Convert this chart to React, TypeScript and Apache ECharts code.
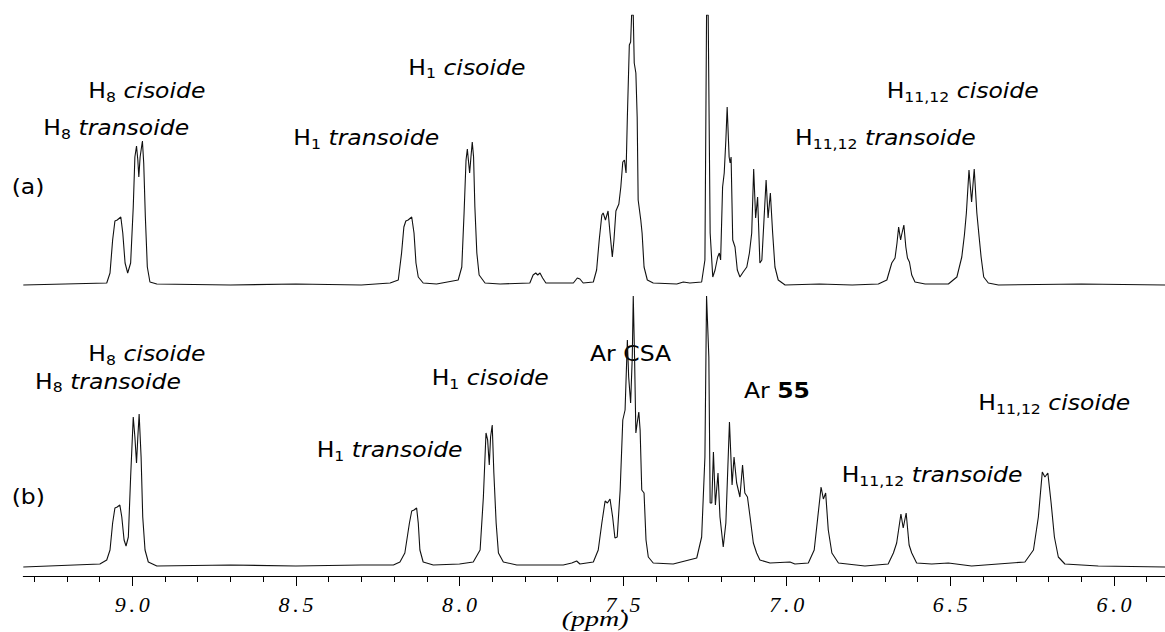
import React, { useEffect, useRef } from 'react';
import * as echarts from 'echarts';

// ---- data: [chemical shift (ppm), intensity] ----
const spectrumA: number[][] = [
  [9.333, 0], [9.078, 2], [9.068, 12], [9.06, 45], [9.053, 64], [9.046, 65], [9.035, 68], [9.029, 52], [9.022, 22], [9.014, 12], [9.005, 22], [8.997, 78], [8.992, 128], [8.987, 139], [8.983, 125], [8.98, 108], [8.976, 128], [8.969, 144], [8.965, 122], [8.96, 68], [8.954, 18], [8.946, 3], [8.925, 1], [8.7, 0], [8.5, 1], [8.3, 0],
  [8.212, 2], [8.187, 5], [8.177, 32], [8.17, 58], [8.164, 64], [8.157, 65], [8.146, 68], [8.139, 52], [8.133, 22], [8.126, 8], [8.111, 2], [8.07, 1],
  [8.004, 5], [7.993, 18], [7.986, 72], [7.98, 125], [7.976, 136], [7.972, 122], [7.969, 112], [7.965, 128], [7.961, 143], [7.957, 128], [7.953, 78], [7.947, 32], [7.94, 10], [7.922, 2], [7.876, 1],
  [7.785, 2], [7.775, 10], [7.767, 12], [7.761, 10], [7.754, 12], [7.746, 7], [7.736, 2], [7.652, 2], [7.64, 7], [7.632, 6], [7.622, 2],
  [7.591, 3], [7.581, 15], [7.573, 45], [7.565, 70], [7.561, 72], [7.554, 65], [7.546, 74], [7.54, 52], [7.533, 28], [7.528, 45], [7.522, 74], [7.513, 81], [7.507, 98], [7.501, 123], [7.496, 125], [7.491, 112], [7.487, 168], [7.481, 240], [7.477, 243], [7.474, 270], [7.469, 270], [7.466, 222], [7.461, 212], [7.457, 168], [7.454, 85], [7.446, 65], [7.442, 52], [7.436, 18], [7.426, 5], [7.408, 2], [7.336, 1], [7.316, 3], [7.296, 2],
  [7.26, 3], [7.25, 25], [7.245, 270], [7.24, 270], [7.234, 52], [7.226, 8], [7.219, 15], [7.211, 28], [7.206, 32], [7.202, 25], [7.196, 98], [7.191, 112], [7.186, 145], [7.182, 178], [7.176, 128], [7.173, 122], [7.17, 128], [7.165, 45], [7.158, 38], [7.151, 15], [7.143, 8], [7.133, 13], [7.122, 18], [7.114, 32], [7.107, 52], [7.101, 116], [7.095, 67], [7.089, 88], [7.082, 22], [7.076, 25], [7.069, 68], [7.063, 105], [7.057, 67], [7.05, 92], [7.043, 52], [7.036, 18], [7.026, 5], [7.005, 0],
  [6.9, 1], [6.8, 0],
  [6.72, 1], [6.694, 5], [6.679, 22], [6.669, 27], [6.663, 42], [6.658, 58], [6.652, 45], [6.649, 50], [6.642, 60], [6.636, 38], [6.631, 27], [6.625, 23], [6.618, 10], [6.608, 3], [6.577, 1],
  [6.506, 1], [6.48, 8], [6.465, 28], [6.457, 50], [6.451, 72], [6.443, 115], [6.435, 83], [6.427, 116], [6.419, 72], [6.412, 48], [6.406, 28], [6.398, 8], [6.384, 2], [6.353, 0], [6.1, 1], [5.844, 0],
];

const spectrumB: number[][] = [
  [9.333, -1], [9.099, 2], [9.078, 6], [9.068, 16], [9.06, 43], [9.053, 58], [9.046, 59], [9.038, 61], [9.032, 49], [9.025, 26], [9.019, 20], [9.012, 29], [9.005, 89], [8.997, 149], [8.992, 129], [8.987, 103], [8.983, 129], [8.979, 152], [8.973, 109], [8.968, 49], [8.961, 16], [8.951, 4], [8.925, 0], [8.7, 1], [8.5, 0], [8.3, 1],
  [8.202, 1], [8.182, 4], [8.167, 13], [8.153, 43], [8.146, 55], [8.139, 56], [8.131, 58], [8.126, 43], [8.121, 16], [8.111, 4], [8.08, 1],
  [8.0, 2], [7.958, 4], [7.937, 16], [7.927, 69], [7.919, 133], [7.914, 126], [7.909, 101], [7.905, 129], [7.9, 141], [7.895, 93], [7.888, 43], [7.881, 13], [7.866, 4], [7.825, 1],
  [7.683, 1], [7.657, 3], [7.642, 5], [7.632, 2],
  [7.591, 4], [7.576, 16], [7.565, 43], [7.555, 65], [7.548, 63], [7.54, 67], [7.532, 49], [7.525, 28], [7.518, 29], [7.509, 76], [7.501, 146], [7.494, 156], [7.487, 226], [7.483, 189], [7.477, 163], [7.472, 209], [7.469, 270], [7.465, 209], [7.461, 133], [7.457, 143], [7.452, 154], [7.448, 136], [7.443, 76], [7.436, 73], [7.43, 26], [7.423, 9], [7.408, 3], [7.347, 2],
  [7.275, 8], [7.26, 29], [7.25, 109], [7.245, 270], [7.238, 209], [7.234, 63], [7.229, 63], [7.224, 114], [7.218, 61], [7.21, 93], [7.204, 49], [7.194, 19], [7.186, 43], [7.175, 144], [7.167, 81], [7.161, 109], [7.153, 83], [7.143, 69], [7.135, 101], [7.128, 73], [7.12, 69], [7.112, 49], [7.102, 23], [7.092, 13], [7.082, 6], [7.051, 3], [6.99, 4], [6.975, 2],
  [6.934, 3], [6.916, 16], [6.905, 49], [6.895, 79], [6.888, 67], [6.881, 73], [6.873, 36], [6.862, 13], [6.842, 3], [6.761, 0],
  [6.69, 2], [6.674, 13], [6.664, 23], [6.651, 52], [6.644, 38], [6.635, 53], [6.626, 21], [6.618, 13], [6.603, 3], [6.557, 2], [6.506, 3], [6.435, 0],
  [6.272, 4], [6.246, 16], [6.231, 49], [6.219, 94], [6.211, 89], [6.202, 93], [6.192, 63], [6.182, 29], [6.17, 9], [6.15, 2], [6.048, 0], [5.844, -1],
];

// ---- axis ticks ----
const majorTicks = [6.0, 6.5, 7.0, 7.5, 8.0, 8.5, 9.0];
const minorTicks = [5.9, 6.1, 6.2, 6.3, 6.4, 6.6, 6.7, 6.8, 6.9, 7.1, 7.2, 7.3, 7.4, 7.6, 7.7, 7.8, 7.9, 8.1, 8.2, 8.3, 8.4, 8.6, 8.7, 8.8, 8.9, 9.1, 9.2, 9.3];
const ppmMin = 5.844;
const ppmMax = 9.333;
const axisTitle = '(ppm)';
const panelLabels = ['(a)', '(b)'];

// ---- annotation texts: [main, subscript, italic part] ----
const labelsA: string[][] = [
  ['H', '8', 'cisoide'],
  ['H', '8', 'transoide'],
  ['H', '1', 'transoide'],
  ['H', '1', 'cisoide'],
  ['H', '11,12', 'cisoide'],
  ['H', '11,12', 'transoide'],
];
const labelsB: string[][] = [
  ['H', '8', 'cisoide'],
  ['H', '8', 'transoide'],
  ['H', '1', 'transoide'],
  ['H', '1', 'cisoide'],
  ['H', '11,12', 'cisoide'],
  ['H', '11,12', 'transoide'],
];
const arLabels = ['Ar CSA', 'Ar ', '55'];

const SANS = 'DejaVu Sans';
const SERIF = 'Liberation Serif';

export default function App() {
  const ref = useRef<HTMLDivElement>(null);

  useEffect(() => {
    if (!ref.current) return;
    const chart = echarts.init(ref.current, undefined, { renderer: 'svg' });

    const rich = {
      n: { fontFamily: SANS, fontSize: 21, fill: '#000', lineHeight: 24, verticalAlign: 'top' },
      s: { fontFamily: SANS, fontSize: 14, fill: '#000', lineHeight: 14, verticalAlign: 'bottom' },
      i: { fontFamily: SANS, fontSize: 21, fontStyle: 'italic', fill: '#000', lineHeight: 24, verticalAlign: 'top' },
      b: { fontFamily: SANS, fontSize: 21, fontWeight: 'bold', fill: '#000', lineHeight: 24, verticalAlign: 'top' },
    };
    const sx = 1.12;
    const textEl = (text: string, x: number, baseline: number) => ({
      type: 'text',
      x,
      y: baseline - 7.3,
      scaleX: sx,
      silent: true,
      style: {
        text,
        rich,
        fontFamily: SANS,
        fontSize: 21,
        fill: '#000',
        align: 'left',
        verticalAlign: 'middle',
      },
    });
    const hText = (l: string[]) => `{n|${l[0]}}{s|${l[1]}}{n| }{i|${l[2]}}`;

    const posA = [[88.3, 99.3], [43.3, 136.7], [293.3, 146.7], [408.3, 76], [886.7, 99.3], [795, 146.7]];
    const posB = [[88.3, 362.7], [35, 390], [316.7, 458.3], [431.7, 386.7], [978.3, 411.7], [841.7, 483.3]];

    const graphics: any[] = [];
    labelsA.forEach((l, k) => graphics.push(textEl(hText(l), posA[k][0], posA[k][1])));
    labelsB.forEach((l, k) => graphics.push(textEl(hText(l), posB[k][0], posB[k][1])));
    graphics.push(textEl(`{n|${arLabels[0]}}`, 590, 362.7));
    graphics.push(textEl(`{n|${arLabels[1]}}{b|${arLabels[2]}}`, 744, 399.3));
    graphics.push(textEl(`{n|${panelLabels[0]}}`, 11.7, 194.8));
    graphics.push(textEl(`{n|${panelLabels[1]}}`, 11.7, 505.3));
    graphics.push({
      type: 'text',
      x: 561.7,
      y: 619,
      scaleX: 1.4,
      silent: true,
      style: {
        text: axisTitle,
        fontFamily: SERIF,
        fontSize: 20,
        fontStyle: 'italic',
        fill: '#000',
        align: 'left',
        verticalAlign: 'middle',
      },
    });

    const gridRectTop = { left: 23.3, right: 0, top: 15, height: 275, outerBoundsMode: 'none', containLabel: false };
    const gridRectBottom = { left: 23.3, right: 0, top: 296, height: 280, outerBoundsMode: 'none', containLabel: false };

    const baseX = {
      type: 'value',
      min: ppmMin,
      max: ppmMax,
      inverse: true,
      splitLine: { show: false },
    };

    const option: any = {
      animation: false,
      backgroundColor: '#fff',
      grid: [gridRectTop, gridRectBottom, { ...gridRectBottom }],
      xAxis: [
        { ...baseX, gridIndex: 0, show: false },
        {
          ...baseX,
          gridIndex: 1,
          position: 'bottom',
          axisLine: { show: true, onZero: false, lineStyle: { color: '#000', width: 1 } },
          axisTick: { show: true, length: 10, customValues: majorTicks, lineStyle: { color: '#000', width: 1 } },
          axisLabel: {
            show: true,
            customValues: majorTicks,
            margin: 17,
            color: '#000',
            formatter: (v: number) => {
              const s = v.toFixed(1);
              return `{d|${s[0]}}{p|.}{d|${s[2]}}`;
            },
            rich: {
              d: { fontFamily: SERIF, fontStyle: 'italic', fontSize: 22, color: '#000', width: 16, align: 'center' },
              p: { fontFamily: SERIF, fontStyle: 'italic', fontSize: 22, color: '#000', width: 8, align: 'center' },
            },
          },
        },
        {
          ...baseX,
          gridIndex: 2,
          position: 'bottom',
          axisLine: { show: false, onZero: false },
          axisTick: { show: true, length: 6, customValues: minorTicks, lineStyle: { color: '#000', width: 1 } },
          axisLabel: { show: false },
        },
      ],
      yAxis: [
        { type: 'value', gridIndex: 0, min: -5, max: 270, show: false, splitLine: { show: false } },
        { type: 'value', gridIndex: 1, min: -10, max: 270, show: false, splitLine: { show: false } },
        { type: 'value', gridIndex: 2, min: 0, max: 1, show: false, splitLine: { show: false } },
      ],
      series: [
        {
          type: 'line',
          name: '(a)',
          xAxisIndex: 0,
          yAxisIndex: 0,
          data: spectrumA,
          showSymbol: false,
          symbol: 'none',
          clip: true,
          lineStyle: { color: '#111', width: 1.1 },
          silent: true,
        },
        {
          type: 'line',
          name: '(b)',
          xAxisIndex: 1,
          yAxisIndex: 1,
          data: spectrumB,
          showSymbol: false,
          symbol: 'none',
          clip: true,
          lineStyle: { color: '#111', width: 1.1 },
          silent: true,
        },
      ],
      graphic: graphics,
    };

    chart.setOption(option);
    return () => chart.dispose();
  }, []);

  return (
    <div
      ref={ref}
      style={{ position: 'absolute', left: 0, top: 0, width: 1165, height: 632, background: '#fff' }}
    />
  );
}
